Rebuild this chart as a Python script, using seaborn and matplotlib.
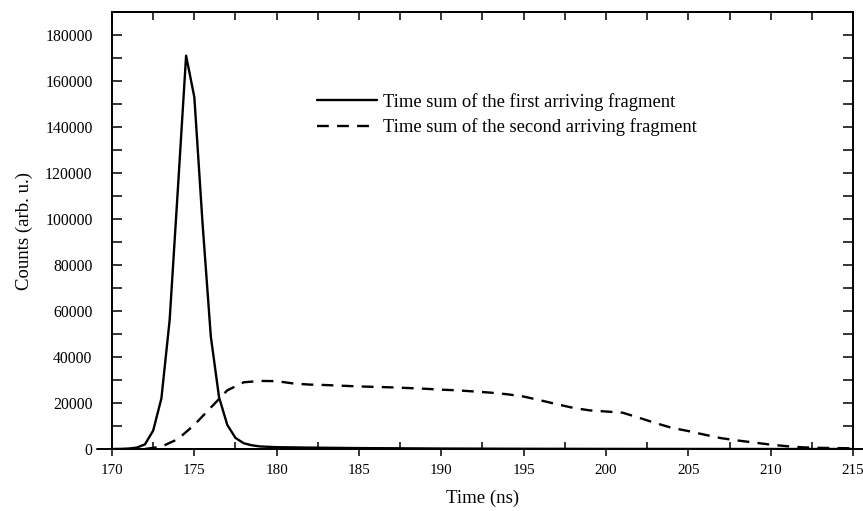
import numpy as np
import pandas as pd
import matplotlib
matplotlib.use("Agg")
import matplotlib.pyplot as plt
from matplotlib.ticker import MultipleLocator, NullFormatter
import seaborn as sns

# ---- data ----
first_time = [170, 170.5, 171, 171.5, 172, 172.5, 173, 173.5, 174, 174.5, 175, 175.5,
              176, 176.5, 177, 177.5, 178, 178.5, 179, 180, 182, 185, 190, 195, 200, 210, 215]
first_counts = [0, 50, 200, 600, 2000, 8000, 22000, 56000, 113000, 171000, 153000, 98000,
                49000, 22500, 10500, 4800, 2500, 1600, 1100, 800, 600, 400, 200, 100, 50, 0, 0]

second_time = [172, 173, 174, 175, 176, 177, 178, 179, 180, 181, 182, 183, 184, 185, 186,
               187, 188, 189, 190, 191, 192, 193, 194, 195, 196, 197, 198, 199, 200, 201,
               202, 203, 204, 205, 206, 207, 208, 209, 210, 211, 212, 213, 214, 215, 216]
second_counts = [0, 1000, 4300, 10500, 18000, 25500, 29000, 29600, 29500, 28500, 28000, 27800,
                 27500, 27200, 27000, 26800, 26500, 26200, 25800, 25500, 25000, 24500, 23800,
                 22800, 21200, 19500, 17900, 16800, 16300, 15800, 13600, 11300, 9200, 7800,
                 6200, 4700, 3700, 2800, 1900, 1200, 700, 500, 400, 300, 300]

labels = ["Time sum of the first arriving fragment",
          "Time sum of the second arriving fragment"]
x_label = "Time (ns)"
y_label = "Counts (arb. u.)"
y_ticks = list(range(0, 180001, 20000))

sns.set_theme(style="white")
plt.rcParams['font.family'] = ['Liberation Serif', 'DejaVu Serif']

fig = plt.figure(figsize=(8.63, 5.11), dpi=100)
x0, x1, y0, y1 = 112, 853, 449, 12
ax = fig.add_axes([x0/863, 1-y0/511, (x1-x0)/863, (y0-y1)/511])

df1 = pd.DataFrame({"t": first_time, "c": first_counts})
df2 = pd.DataFrame({"t": second_time, "c": second_counts})
sns.lineplot(data=df1, x="t", y="c", ax=ax, color="black", lw=1.7, label=labels[0])
sns.lineplot(data=df2, x="t", y="c", ax=ax, color="black", lw=1.7, label=labels[1])
ax.lines[1].set_dashes((5, 3.5))

ax.set_xlim(170, 215)
ax.set_ylim(0, 190000)
ax.xaxis.set_major_locator(MultipleLocator(5))
ax.xaxis.set_minor_locator(MultipleLocator(2.5))
ax.yaxis.set_minor_locator(MultipleLocator(10000))
ax.set_yticks(y_ticks)
ax.set_yticklabels([str(v) for v in y_ticks])

for s in ax.spines.values():
    s.set_color("black")
    s.set_linewidth(1.4)

# extended baseline as in the reference
ax.axhline(0, xmin=(97-x0)/(x1-x0), xmax=(863-x0)/(x1-x0), color="black",
           lw=1.4, clip_on=False, zorder=1)

ax.tick_params(axis="both", which="both", color="black", width=1.1,
               labelcolor="black")
ax.tick_params(axis="y", labelsize=11.3)
ax.tick_params(axis="x", labelsize=10.8)
ax.tick_params(axis="x", which="major", direction="out", length=5, pad=6,
               top=False, bottom=True)
ax.tick_params(axis="x", which="minor", direction="in", length=5,
               top=False, bottom=True)
ax.tick_params(axis="y", which="both", direction="in", length=7, pad=14,
               left=True, right=True)

sec = ax.secondary_xaxis("top")
sec.xaxis.set_major_locator(MultipleLocator(5))
sec.xaxis.set_minor_locator(MultipleLocator(2.5))
sec.xaxis.set_major_formatter(NullFormatter())
sec.tick_params(axis="x", which="both", direction="in", length=6, width=1.1, color="black")
sec.spines["top"].set_linewidth(1.4)

ax.set_xlabel(x_label, fontsize=13.5, color="black", labelpad=9)
ax.set_ylabel(y_label, fontsize=13.5, color="black", labelpad=9)

leg = ax.legend(loc="upper left", bbox_to_anchor=(317/863, 1-93/511),
                bbox_transform=fig.transFigure, frameon=False, fontsize=13.4,
                handlelength=3.2, handletextpad=0.35, borderpad=0, borderaxespad=0,
                labelspacing=0.4)
for t in leg.get_texts():
    t.set_color("black")

fig.savefig("out.png", dpi=100)
